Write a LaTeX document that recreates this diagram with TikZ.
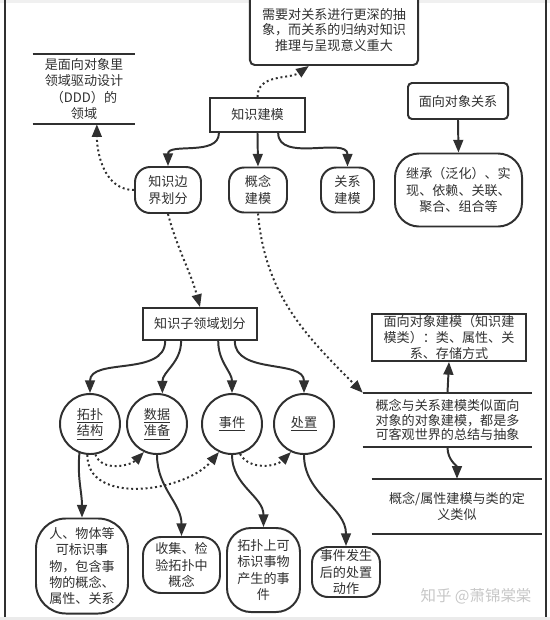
\documentclass[tikz,border=0pt]{standalone}
\usepackage{fontspec}
\setmainfont{Noto Sans CJK SC}
\usepackage{xcolor}
\usetikzlibrary{arrows.meta,positioning}
\definecolor{ink}{HTML}{303030}

\begin{document}
\begin{tikzpicture}[
  x=0.025cm, y=-0.025cm,
  >={Triangle[length=9pt,width=7pt]},
  every node/.style={font=\fontsize{9.3}{11.7}\selectfont, text=ink, align=center, inner sep=0pt},
  box/.style={draw=ink, line width=1.4pt, fill=white},
  rbox/.style={box, rounded corners=#1},
  circ/.style={box, circle, minimum size=1.5cm},
  storeline/.style={draw=ink, line width=1.4pt},
  store/.style={append after command={
      (\tikzlastnode.north west) edge[storeline] (\tikzlastnode.north east)
      (\tikzlastnode.south west) edge[storeline] (\tikzlastnode.south east)}},
  link/.style={->, draw=ink, line width=1.4pt},
  hint/.style={link, dotted},
]
\useasboundingbox (0,0) rectangle (550,620);

% page frame
\fill[black!6] (0,0) rectangle (550,3);
\fill[black!8] (0,617) rectangle (550,620);
\draw[ink, line width=2pt] (5,0) -- (5,617);
\draw[ink, line width=1.5pt] (546,0) -- (546,617);

% Top part
\node[rbox=0.12cm, minimum width=4.2cm, minimum height=1.75cm,
  font=\fontsize{9.3}{11.3}\selectfont] (deep) at (334,30)
  {需要对关系进行更深的抽\\象，而关系的归纳对知识\\推理与呈现意义重大};
\node[box, minimum width=2.375cm, minimum height=0.85cm] (know) at (257.5,115) {知识建模};
\node[store, minimum width=2.55cm, minimum height=1.75cm] (ddd) at (84,89)
  {是面向对象里\\领域驱动设计\\（DDD）的\\领域};
\node[rbox=0.1cm, minimum width=2.5cm, minimum height=0.9cm] (oorel) at (458,101) {面向对象关系};

% Second row
\node[rbox=0.38cm, minimum width=1.65cm, minimum height=1.15cm] (bound) at (168,190) {知识边\\界划分};
\node[rbox=0.38cm, minimum width=1.45cm, minimum height=1.125cm] (concept) at (258,190) {概念\\建模};
\node[rbox=0.38cm, minimum width=1.325cm, minimum height=1.125cm] (relation) at (347.5,190) {关系\\建模};
\node[rbox=0.6cm, minimum width=3.175cm, minimum height=1.825cm] (inherit) at (458.5,190)
  {继承（泛化）、实\\现、依赖、关联、\\聚合、组合等};

% Middle part
\node[box, minimum width=2.85cm, minimum height=0.8cm] (subdom) at (200,324) {知识子领域划分};
\node[box, minimum width=3.85cm, minimum height=1.175cm,
  font=\fontsize{9.3}{11.2}\selectfont] (oomod) at (449,337.5)
  {面向对象建模（知识建\\模类）：类、属性、关\\系、存储方式};
\node[store, minimum width=4.225cm, minimum height=1.35cm,
  font=\fontsize{9.3}{10.6}\selectfont] (similar) at (447.5,420)
  {概念与关系建模类似面向\\对象的对象建模，都是多\\可客观世界的总结与抽象};
\node[store, minimum width=4.25cm, minimum height=1.375cm] (classdef) at (457,506.5)
  {概念/属性建模与类的定\\义类似};

% Sub-domains
\node[circ] (topo) at (90,424) {\underline{拓扑}\\\underline{结构}};
\node[circ] (prep) at (157,424) {\underline{数据}\\\underline{准备}};
\node[circ] (event) at (232,424) {\underline{事件}};
\node[circ] (dispose) at (304,424) {\underline{处置}};

% Bottom row
\node[rbox=0.75cm, minimum width=2.3cm, minimum height=2.375cm] (things) at (82,566)
  {人、物体等\\可标识事\\物，包含事\\物的概念、\\属性、关系};
\node[rbox=0.45cm, minimum width=1.925cm, minimum height=1.4cm] (collect) at (181.5,565)
  {收集、检\\验拓扑中\\概念};
\node[rbox=0.6cm, minimum width=1.825cm, minimum height=2.1cm] (topoev) at (263.5,570)
  {拓扑上可\\标识事物\\产生的事\\件};
\node[rbox=0.4cm, minimum width=1.7cm, minimum height=1.25cm] (action) at (346,572)
  {事件发生\\后的处置\\动作};

\node[font=\fontsize{11}{13}\selectfont, text=black!22] (wmark) at (476,596) {知乎 @萧锦棠棠};

% Connectors
\draw[hint] (know.north) to[out=90,in=215] (deep.-125);
\draw[hint] (bound.west) to[out=180,in=-90] (ddd.-70);
\draw[link] (know.-155) to[out=-90,in=90] (bound.north);
\draw[link] (know.south) -- (concept.north);
\draw[link] (know.-41) to[out=-90,in=90] (relation.north);
\draw[link] (oorel.south) -- (inherit.north);
\draw[hint] (bound.south) to[out=-75,in=105] (subdom.north);
\draw[hint] (concept.south) to[out=-85,in=135] (similar.north west);
\draw[link] (similar.north) -- (oomod.south);
\draw[link] (similar.south) to[out=-90,in=90] (classdef.north);

\draw[link] (subdom.-154) to[out=-90,in=90] (topo.north);
\draw[link] (subdom.-138) to[out=-90,in=90] (prep.80);
\draw[link] (subdom.-43) to[out=-90,in=90] (event.north);
\draw[link] (subdom.-26) to[out=-90,in=90] (dispose.north);

\draw[hint] (topo.-80) to[out=-70,in=-135] (prep.-115);
\draw[hint] (topo.-95) to[out=-90,in=-130] (event.-115);
\draw[hint] (event.-75) to[out=-60,in=-135] (dispose.-115);

\draw[link] (topo.-110) to[out=-95,in=90] (things.north);
\draw[link] (prep.south) to[out=-90,in=90] (collect.north);
\draw[link] (event.south) to[out=-90,in=90] (topoev.north);
\draw[link] (dispose.south) to[out=-90,in=90] (action.north);
\end{tikzpicture}
\end{document}
